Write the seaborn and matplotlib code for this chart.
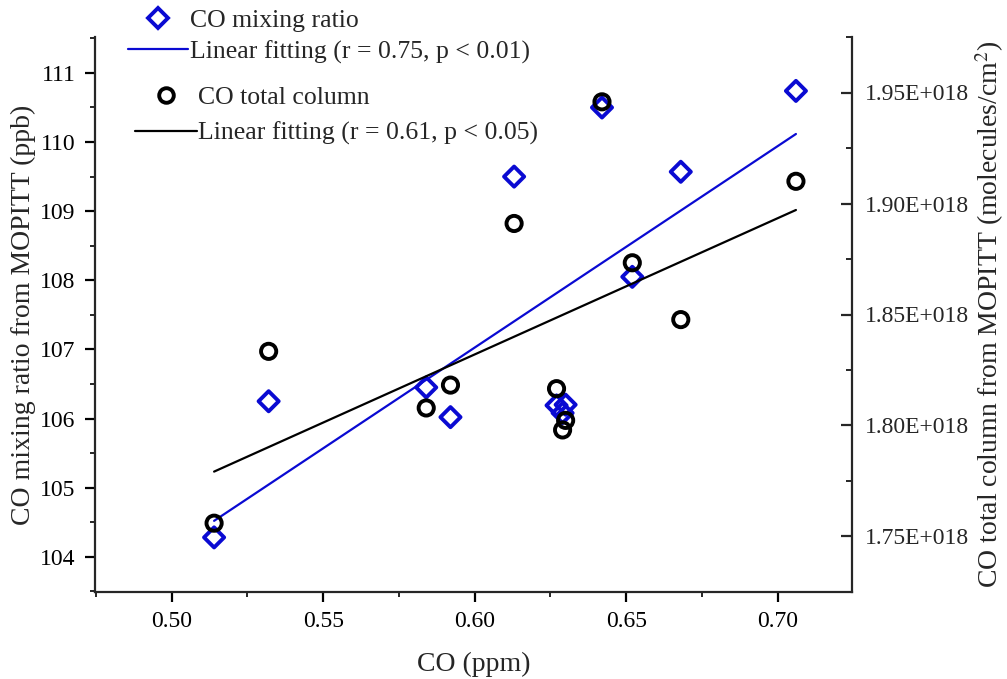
import numpy as np
import pandas as pd
import matplotlib
matplotlib.use("Agg")
import matplotlib.pyplot as plt
import seaborn as sns
from matplotlib.lines import Line2D
from matplotlib.ticker import MultipleLocator, FuncFormatter

# ---- data ----
co_ppm = [0.514, 0.532, 0.584, 0.592, 0.613, 0.627, 0.630, 0.629, 0.642, 0.652, 0.668, 0.706]
co_mixing_ppb = [104.28, 106.25, 106.45, 106.02, 109.50, 106.19, 106.20, 106.08, 110.50, 108.05, 109.57, 110.74]
co_column = [1.756e18, 1.8334e18, 1.8079e18, 1.8182e18, 1.891e18, 1.8166e18, 1.8023e18,
             1.798e18, 1.9458e18, 1.8733e18, 1.8477e18, 1.910e18]

label_mix = "CO mixing ratio"
label_fit_mix = "Linear fitting (r = 0.75, p < 0.01)"
label_col = "CO total column"
label_fit_col = "Linear fitting (r = 0.61, p < 0.05)"

df = pd.DataFrame({"co": co_ppm, "mix": co_mixing_ppb, "col": co_column})

sns.set_style("ticks")
plt.rcParams["font.family"] = ["Liberation Serif", "DejaVu Serif"]
plt.rcParams["mathtext.fontset"] = "stix"

BLUE = "#0a0ad2"
BLACK = "#000000"

fig = plt.figure(figsize=(10.07, 6.79), dpi=100)
fig.subplots_adjust(left=95/1007, right=852/1007, bottom=1-592/679, top=1-37/679)
ax = fig.add_subplot(111)
ax2 = ax.twinx()

sns.regplot(data=df, x="co", y="mix", ax=ax, ci=None, marker="D",
            scatter_kws=dict(s=105, facecolors="none", edgecolors=BLUE, linewidths=2.8,
                             alpha=1, zorder=3),
            line_kws=dict(color=BLUE, lw=1.6, zorder=2))
sns.regplot(data=df, x="co", y="col", ax=ax2, ci=None, marker="o",
            scatter_kws=dict(s=120, facecolors="none", edgecolors=BLACK, linewidths=2.8,
                             alpha=1, zorder=3),
            line_kws=dict(color=BLACK, lw=1.6, zorder=2))

ax.set_xlim(0.4747, 0.7245)
ax.set_ylim(103.49, 111.52)
ax2.set_ylim(1.725e18, 1.975e18)

ax.xaxis.set_major_locator(MultipleLocator(0.05))
ax.xaxis.set_minor_locator(MultipleLocator(0.025))
ax.xaxis.set_major_formatter(FuncFormatter(lambda v, p: f"{v:.2f}"))
ax.yaxis.set_major_locator(MultipleLocator(1))
ax.yaxis.set_minor_locator(MultipleLocator(0.5))
ax.yaxis.set_major_formatter(FuncFormatter(lambda v, p: f"{v:.0f}"))
ax2.yaxis.set_major_locator(MultipleLocator(0.05e18))
ax2.yaxis.set_minor_locator(MultipleLocator(0.025e18))
ax2.yaxis.set_major_formatter(FuncFormatter(lambda v, p: f"{v/1e18:.2f}E+018"))
ax2.yaxis.get_offset_text().set_visible(False)

for s in ["top", "right"]:
    ax.spines[s].set_visible(False)
for s in ["top", "left", "bottom"]:
    ax2.spines[s].set_visible(False)
for s in ["left", "bottom"]:
    ax.spines[s].set_linewidth(1.6)
ax2.spines["right"].set_linewidth(1.6)

ax.tick_params(axis="both", which="major", direction="out", length=7, width=1.6,
               labelsize=17, pad=7, color="black", labelcolor="black")
ax.tick_params(axis="both", which="minor", direction="out", length=3.6, width=1.4)
ax2.tick_params(axis="y", which="major", direction="in", length=8, width=1.6, labelsize=17, pad=9)
ax2.tick_params(axis="y", which="minor", direction="in", length=4.3, width=1.4)

ax.set_xlabel("CO (ppm)", fontsize=20)
ax.set_ylabel("CO mixing ratio from MOPITT (ppb)", fontsize=20)
ax2.set_ylabel("CO total column from MOPITT (molecules/cm$^{2}$)", fontsize=20)
ax.xaxis.set_label_coords(0.5, -0.108)
ax.yaxis.set_label_coords(-0.078, 0.5)
ax2.yaxis.set_label_coords(1.16, 0.5)

# legends (partly above the axes, as in the reference)
hA = [Line2D([], [], ls="none", marker="D", ms=10, mfc="none", mec=BLUE, mew=2.8),
      Line2D([], [], color=BLUE, lw=1.6)]
hB = [Line2D([], [], ls="none", marker="o", ms=10.5, mfc="none", mec=BLACK, mew=2.8),
      Line2D([], [], color=BLACK, lw=1.6)]
legA = fig.legend(hA, [label_mix, label_fit_mix], loc="upper left",
                  bbox_to_anchor=(128/1007, 1-9/679), frameon=False, fontsize=18.5,
                  handlelength=2.33, handletextpad=0.1, labelspacing=0.32, borderpad=0,
                  borderaxespad=0)
legB = fig.legend(hB, [label_col, label_fit_col], loc="upper left",
                  bbox_to_anchor=(135/1007, 1-86/679), frameon=False, fontsize=18.5,
                  handlelength=2.4, handletextpad=0.05, labelspacing=0.5, borderpad=0,
                  borderaxespad=0)

fig.savefig("out.png", dpi=100, facecolor="white")
